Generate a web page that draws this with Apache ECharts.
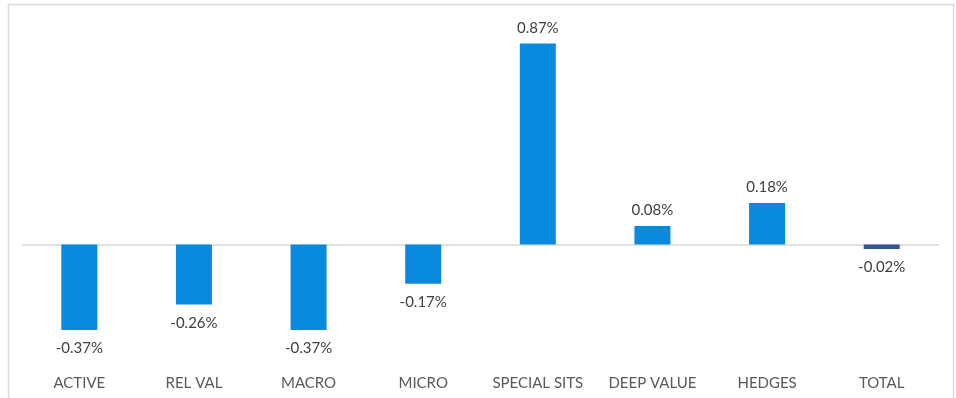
<!DOCTYPE html>
<html>
<head>
<meta charset="utf-8">
<script src="https://cdn.jsdelivr.net/npm/echarts@6/dist/echarts.min.js"></script>
<style>
  html, body { margin: 0; padding: 0; background: #ffffff; }
  #chart { width: 956px; height: 398px; }
</style>
</head>
<body>
<div id="chart"></div>
<script>
// Attribution by strategy bucket (percent)
const categories = ['ACTIVE', 'REL VAL', 'MACRO', 'MICRO', 'SPECIAL SITS', 'DEEP VALUE', 'HEDGES', 'TOTAL'];
const values = [-0.37, -0.26, -0.37, -0.17, 0.87, 0.08, 0.18, -0.02];

const BAR_COLOR = '#0A8ADE';
const TOTAL_COLOR = '#2F5597';
const FONT = 'Lato, "Open Sans", sans-serif';

const seriesData = values.map((v, i) => ({
  value: v,
  itemStyle: { color: categories[i] === 'TOTAL' ? TOTAL_COLOR : BAR_COLOR },
  label: { position: v >= 0 ? 'top' : 'bottom', distance: v >= 0 ? 8 : 11 }
}));

const chart = echarts.init(document.getElementById('chart'));
chart.setOption({
  backgroundColor: '#ffffff',
  animation: false,
  graphic: [{
    type: 'rect',
    shape: { x: 8.5, y: 4.5, width: 945, height: 420 },
    style: { fill: 'none', stroke: '#d9d9d9', lineWidth: 1.5 },
    silent: true
  }],
  grid: { left: 22, right: 17, top: 13.5, bottom: 38 },
  xAxis: {
    type: 'category',
    data: categories,
    axisLine: { show: false, onZero: false },
    axisTick: { show: false },
    axisLabel: { color: '#595959', fontSize: 15, fontFamily: FONT, margin: 16, interval: 0 },
    splitLine: { show: false }
  },
  yAxis: {
    type: 'value',
    min: -0.5,
    max: 1.0,
    interval: 0.5,
    show: false,
    splitLine: { show: false }
  },
  series: [{
    type: 'bar',
    data: seriesData,
    barWidth: 36,
    label: {
      show: true,
      color: '#404040',
      fontSize: 15,
      fontFamily: FONT,
      formatter: p => p.value.toFixed(2) + '%'
    },
    markLine: {
      silent: true,
      symbol: 'none',
      label: { show: false },
      lineStyle: { color: '#d9d9d9', type: 'solid', width: 1.5 },
      data: [{ yAxis: 0 }],
      z: 1
    },
    z: 2
  }]
});
</script>
</body>
</html>
